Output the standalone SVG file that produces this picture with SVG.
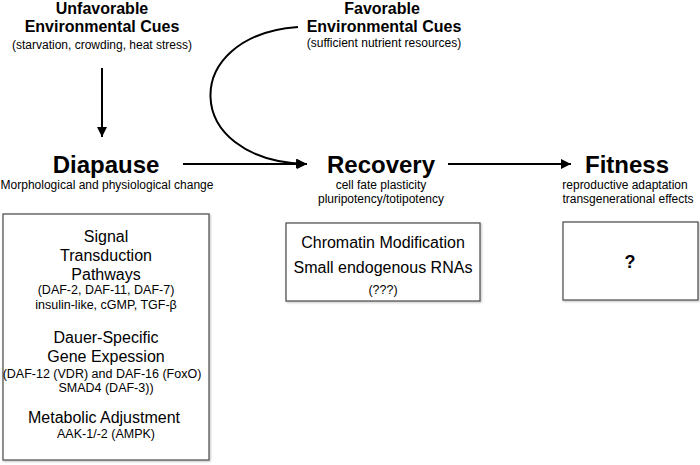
<svg xmlns="http://www.w3.org/2000/svg" width="700" height="465" viewBox="0 0 700 465">
<defs>
<marker id="ah" viewBox="0 0 10 10" refX="10" refY="5" markerWidth="5" markerHeight="5" orient="auto" markerUnits="strokeWidth">
<path d="M0,0 L10,5 L0,10 z" fill="#000"/>
</marker>
<filter id="sh" x="-5%" y="-5%" width="110%" height="110%">
<feDropShadow dx="1" dy="1" stdDeviation="1" flood-color="#000" flood-opacity="0.25"/>
</filter>
</defs>
<style>
text{font-family:"Liberation Sans",Arial,sans-serif;fill:#000;text-anchor:middle}
.h{font-size:16px;font-weight:bold}
.big{font-size:24px;font-weight:bold}
.s{font-size:12px}
.m{font-size:16px}
.sm{font-size:12.5px}
.box{fill:#fff;stroke:#555;stroke-width:1.3;filter:url(#sh)}
.c{fill:none;stroke:#000;stroke-width:2;marker-end:url(#ah)}
</style>
<rect width="700" height="465" fill="#fff"/>
<g id="unfavorable">
<text class="h" x="102" y="14">Unfavorable</text>
<text class="h" x="102" y="32">Environmental Cues</text>
<text class="s" x="102" y="49">(starvation, crowding, heat stress)</text>
</g>
<g id="favorable">
<text class="h" x="382" y="14">Favorable</text>
<text class="h" x="384" y="32">Environmental Cues</text>
<text class="s" x="384" y="47">(sufficient nutrient resources)</text>
</g>
<g id="diapause">
<text class="big" x="106" y="173">Diapause</text>
<text class="s" x="107" y="189">Morphological and physiological change</text>
</g>
<g id="recovery">
<text class="big" x="381" y="173">Recovery</text>
<text class="s" x="381" y="189">cell fate plasticity</text>
<text class="s" x="381" y="203">pluripotency/totipotency</text>
</g>
<g id="fitness">
<text class="big" x="627" y="173">Fitness</text>
<text class="s" x="625" y="189">reproductive adaptation</text>
<text class="s" x="628" y="203">transgenerational effects</text>
</g>
<g id="diapause-box">
<rect class="box" x="3" y="214" width="206" height="246"/>
<text class="m" x="106" y="242">Signal</text>
<text class="m" x="106" y="261">Transduction</text>
<text class="m" x="106" y="280">Pathways</text>
<text class="sm" x="106" y="294">(DAF-2, DAF-11, DAF-7)</text>
<text class="sm" x="106" y="309">insulin-like, cGMP, TGF-β</text>
<text class="m" x="106" y="343">Dauer-Specific</text>
<text class="m" x="106" y="362">Gene Expession</text>
<text class="sm" x="102" y="378">(DAF-12 (VDR) and DAF-16 (FoxO)</text>
<text class="sm" x="106" y="392">SMAD4 (DAF-3))</text>
<text class="m" x="104" y="423">Metabolic Adjustment</text>
<text class="sm" x="106" y="438">AAK-1/-2 (AMPK)</text>
</g>
<g id="recovery-box">
<rect class="box" x="286" y="223" width="194" height="78"/>
<text class="m" x="383" y="248">Chromatin Modification</text>
<text class="m" x="383" y="273">Small endogenous RNAs</text>
<text class="sm" x="383" y="294">(???)</text>
</g>
<g id="fitness-box">
<rect class="box" x="563" y="222" width="135" height="78"/>
<text class="h" x="630" y="268" style="font-size:18px">?</text>
</g>
<g id="connectors">
<line class="c" x1="102" y1="68" x2="102" y2="137"/>
<line class="c" x1="183" y1="164" x2="307" y2="164"/>
<path class="c" d="M298,27 C180,35 180,160 306,164"/>
<line class="c" x1="448" y1="164" x2="571" y2="164"/>
</g>
</svg>
